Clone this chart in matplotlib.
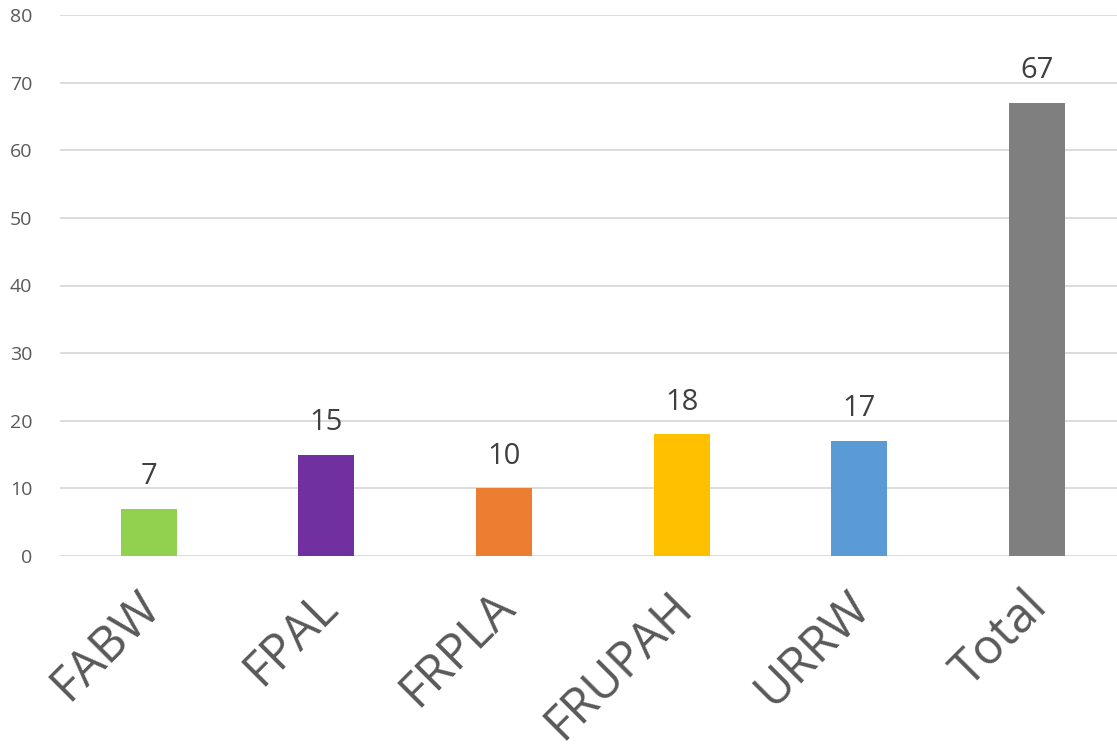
import matplotlib.pyplot as plt
from matplotlib.transforms import ScaledTranslation

plt.rcParams['font.family'] = ['Open Sans', 'DejaVu Sans']

categories = ['FABW', 'FPAL', 'FRPLA', 'FRUPAH', 'URRW', 'Total']
counts = [7, 15, 10, 18, 17, 67]
colors = ['#92D050', '#7030A0', '#ED7D31', '#FFC000', '#5B9BD5', '#7F7F7F']

fig = plt.figure(figsize=(11.17, 7.48), dpi=100)
ax = fig.add_axes([60/1117, 1 - 556/748, 1 - 60/1117, (556 - 15)/748])

x = range(len(categories))
bars = ax.bar(x, counts, width=0.315, color=colors, zorder=3)

for b, v in zip(bars, counts):
    ax.text(b.get_x() + b.get_width()/2, v + 2.6, str(v), ha='center', va='bottom',
            fontsize=21, color='#404040')

ax.set_ylim(0, 80)
ax.set_xlim(-0.5, 5.45)
ax.set_yticks(range(0, 81, 10))
ax.grid(axis='y', color='#D9D9D9', linewidth=1.3, zorder=0)
for s in ax.spines.values():
    s.set_visible(False)
ax.tick_params(length=0)
ax.tick_params(axis='y', labelsize=14, labelcolor='#595959', pad=20)

ax.set_xticks(list(x))
ax.set_xticklabels(categories, rotation=45, ha='right', rotation_mode='anchor',
                   fontsize=35, color='#595959')
ax.tick_params(axis='x', pad=16)
shift = ScaledTranslation(-0.14, -0.04, fig.dpi_scale_trans)
for lbl in ax.get_xticklabels():
    lbl.set_transform(lbl.get_transform() + shift)

fig.savefig('out.png', dpi=100)
